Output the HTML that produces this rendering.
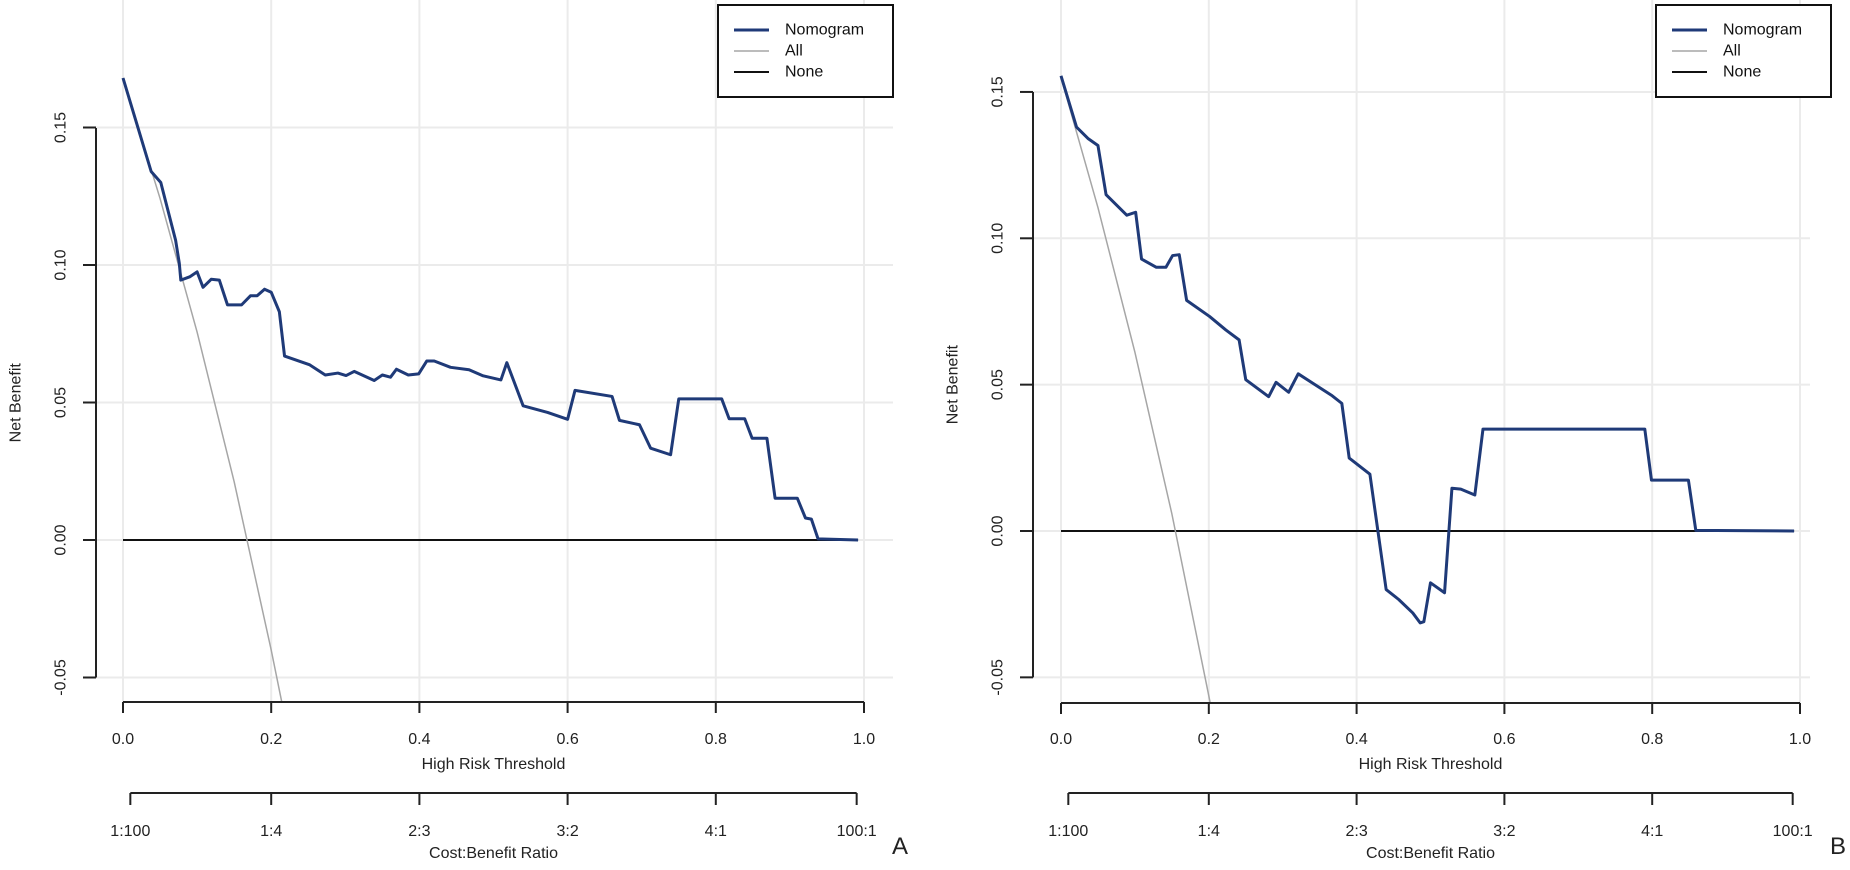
<!DOCTYPE html>
<html><head><meta charset="utf-8"><style>
html,body{margin:0;padding:0;background:#fff;}
svg{display:block;font-family:"Liberation Sans",Arial,sans-serif;}
</style></head><body>
<svg id="chart" width="1850" height="870" viewBox="0 0 1850 870" xmlns="http://www.w3.org/2000/svg"></svg>
<script>
// ---- Panel A data ----
const aThresh = [0,0.038,0.051,0.057,0.071,0.076,0.078,0.090,0.100,0.108,0.119,0.130,0.141,0.160,0.172,0.181,0.191,0.200,0.211,0.218,0.252,0.273,0.290,0.301,0.312,0.339,0.350,0.361,0.369,0.385,0.399,0.410,0.420,0.442,0.467,0.486,0.510,0.518,0.540,0.573,0.600,0.610,0.660,0.670,0.697,0.712,0.739,0.750,0.808,0.818,0.839,0.849,0.869,0.880,0.910,0.921,0.929,0.938,0.992];
const aNomogram = [0.168,0.134,0.130,0.1237,0.109,0.1006,0.0945,0.0957,0.0975,0.0919,0.0948,0.0945,0.0855,0.0855,0.0888,0.0888,0.0912,0.0901,0.0830,0.0669,0.0637,0.0600,0.0607,0.0598,0.0613,0.0580,0.0600,0.0592,0.0621,0.0600,0.0604,0.0651,0.0651,0.0628,0.0619,0.0597,0.0582,0.0645,0.0488,0.0464,0.0439,0.0544,0.0522,0.0435,0.0419,0.0334,0.0310,0.0513,0.0513,0.0441,0.0441,0.0370,0.0370,0.0152,0.0152,0.0080,0.0076,0.0004,0];
const aAllThresh = [0,0.05,0.10,0.15,0.20,0.215];
const aAll = [0.168,0.1242,0.0756,0.0212,-0.040,-0.0599];
// ---- Panel B data ----
const bThresh = [0,0.021,0.037,0.050,0.061,0.089,0.101,0.109,0.129,0.142,0.151,0.160,0.170,0.201,0.223,0.241,0.250,0.281,0.291,0.308,0.321,0.367,0.380,0.390,0.418,0.440,0.457,0.476,0.486,0.491,0.500,0.519,0.529,0.541,0.560,0.571,0.790,0.799,0.849,0.859,0.992];
const bNomogram = [0.1555,0.1380,0.1340,0.1317,0.1149,0.1079,0.1089,0.0929,0.0901,0.0901,0.0941,0.0944,0.0788,0.0733,0.0687,0.0653,0.0517,0.0459,0.0508,0.0474,0.0537,0.0462,0.0436,0.0249,0.0194,-0.0200,-0.0234,-0.0280,-0.0314,-0.0310,-0.0177,-0.0211,0.0146,0.0143,0.0123,0.0348,0.0348,0.0174,0.0174,0.0002,0];
const bAllThresh = [0,0.05,0.10,0.15,0.20,0.205];
const bAll = [0.155,0.1105,0.0611,0.0059,-0.0563,-0.0629];
// ---- shared ticks ----
const xTicks = [0,0.2,0.4,0.6,0.8,1.0];
const xTickLabels = ["0.0","0.2","0.4","0.6","0.8","1.0"];
const yTicks = [-0.05,0,0.05,0.10,0.15];
const yTickLabels = ["-0.05","0.00","0.05","0.10","0.15"];
const cbTicks = [0.0099,0.2,0.4,0.6,0.8,0.9901];
const cbLabels = ["1:100","1:4","2:3","3:2","4:1","100:1"];

const NS="http://www.w3.org/2000/svg";
const svg=document.getElementById('chart');
function mk(tag,attrs,parent){const e=document.createElementNS(NS,tag);for(const k in attrs)e.setAttribute(k,attrs[k]);(parent||svg).appendChild(e);return e;}

const panels=[
 {id:'a',x0:123,x1:864,yZero:540,yPer:2750,axisX:96,yTop:128,left:96,right:893,bottom:702,xAxisY:702,cbY:793,
  legX:718,letter:'A',letterX:892,nx:aThresh,ny:aNomogram,ax:aAllThresh,ay:aAll,titleX:16,tickLabX:61},
 {id:'b',x0:1061,x1:1800,yZero:531,yPer:2927,axisX:1033,yTop:92,left:1033,right:1810,bottom:703,xAxisY:703,cbY:793,
  legX:1656,letter:'B',letterX:1830,nx:bThresh,ny:bNomogram,ax:bAllThresh,ay:bAll,titleX:953,tickLabX:998}
];

panels.forEach(p=>{
 const X=t=>p.x0+t*(p.x1-p.x0);
 const Y=v=>p.yZero-v*p.yPer;
 const g=mk('g',{});
 
 
 const clip=mk('clipPath',{id:'clip-'+p.id},g);
 mk('rect',{x:p.left,y:0,width:p.right-p.left,height:p.bottom},clip);
 // gridlines
 xTicks.forEach(t=>{const l=mk('line',{x1:X(t),x2:X(t),y1:0,y2:p.bottom,stroke:'#ebebeb','stroke-width':2},g);
  
  });
 yTicks.forEach(v=>{const l=mk('line',{x1:p.left,x2:p.right,y1:Y(v),y2:Y(v),stroke:'#ebebeb','stroke-width':2},g);
  
  });
 // none line
 const none=mk('line',{x1:X(0),x2:X(0.992),y1:Y(0),y2:Y(0),stroke:'#111','stroke-width':2},g);
 
 
 // all line
 const all=mk('polyline',{points:p.ax.map((t,i)=>X(t)+','+Y(p.ay[i])).join(' '),fill:'none',stroke:'#a6a6a6','stroke-width':1.5,'clip-path':'url(#clip-'+p.id+')'},g);
 
 
 // nomogram
 const nom=mk('polyline',{points:p.nx.map((t,i)=>X(t)+','+Y(p.ny[i])).join(' '),fill:'none',stroke:'#1f3a78','stroke-width':3,'stroke-linejoin':'round'},g);
 
 
 // y axis
 const ya=mk('line',{x1:p.axisX,x2:p.axisX,y1:p.yTop,y2:Y(-0.05),stroke:'#222','stroke-width':2},g);
 
 
 yTicks.forEach((v,i)=>{
  mk('line',{x1:p.axisX-13,x2:p.axisX,y1:Y(v),y2:Y(v),stroke:'#222','stroke-width':2},g);
  const tx=mk('text',{x:p.tickLabX,y:Y(v),'font-size':16,fill:'#222','text-anchor':'middle','dominant-baseline':'central',transform:`rotate(-90 ${p.tickLabX} ${Y(v)})`},g);
  tx.textContent=yTickLabels[i];
  
  
 });
 const ymid=(p.yTop+Y(-0.05))/2;
 const yt=mk('text',{x:p.titleX,y:ymid,'font-size':16,fill:'#222','text-anchor':'middle','dominant-baseline':'central',transform:`rotate(-90 ${p.titleX} ${ymid})`},g);
 yt.textContent='Net Benefit';
 
 
 // x axis
 const xa=mk('line',{x1:X(0),x2:X(1),y1:p.xAxisY,y2:p.xAxisY,stroke:'#222','stroke-width':2},g);
 
 
 xTicks.forEach((t,i)=>{
  mk('line',{x1:X(t),x2:X(t),y1:p.xAxisY,y2:p.xAxisY+11,stroke:'#222','stroke-width':2},g);
  const tx=mk('text',{x:X(t),y:744,'font-size':16,fill:'#222','text-anchor':'middle'},g);
  tx.textContent=xTickLabels[i];
  
  
 });
 const xt=mk('text',{x:X(0.5),y:769,'font-size':16,fill:'#222','text-anchor':'middle'},g);
 xt.textContent='High Risk Threshold';
 
 
 // cost benefit axis
 const cb=mk('line',{x1:X(cbTicks[0]),x2:X(cbTicks[5]),y1:p.cbY,y2:p.cbY,stroke:'#222','stroke-width':2},g);
 
 
 cbTicks.forEach((t,i)=>{
  mk('line',{x1:X(t),x2:X(t),y1:p.cbY,y2:p.cbY+12,stroke:'#222','stroke-width':2},g);
  const tx=mk('text',{x:X(t),y:836,'font-size':16,fill:'#222','text-anchor':'middle'},g);
  tx.textContent=cbLabels[i];
  
  
 });
 const ct=mk('text',{x:X(0.5),y:858,'font-size':16,fill:'#222','text-anchor':'middle'},g);
 ct.textContent='Cost:Benefit Ratio';
 
 
 // letter
 const lt=mk('text',{x:p.letterX,y:854,'font-size':24,fill:'#222'},g);
 lt.textContent=p.letter;
 
 
 // legend
 const lg=mk('g',{},g);
 
 
 mk('rect',{x:p.legX,y:5,width:175,height:92,fill:'#fff',stroke:'#111','stroke-width':2},lg);
 const items=[['Nomogram','#1f3a78',3],['All','#a6a6a6',1.5],['None','#111',2]];
 items.forEach((it,i)=>{
  const yy=30+i*21;
  const e=mk('g',{},lg);
  
  
  mk('line',{x1:p.legX+16,x2:p.legX+51,y1:yy,y2:yy,stroke:it[1],'stroke-width':it[2]},e);
  const tx=mk('text',{x:p.legX+67,y:yy,'font-size':16,fill:'#111','dominant-baseline':'central'},e);
  tx.textContent=it[0];
 });
});
</script>
</body></html>
